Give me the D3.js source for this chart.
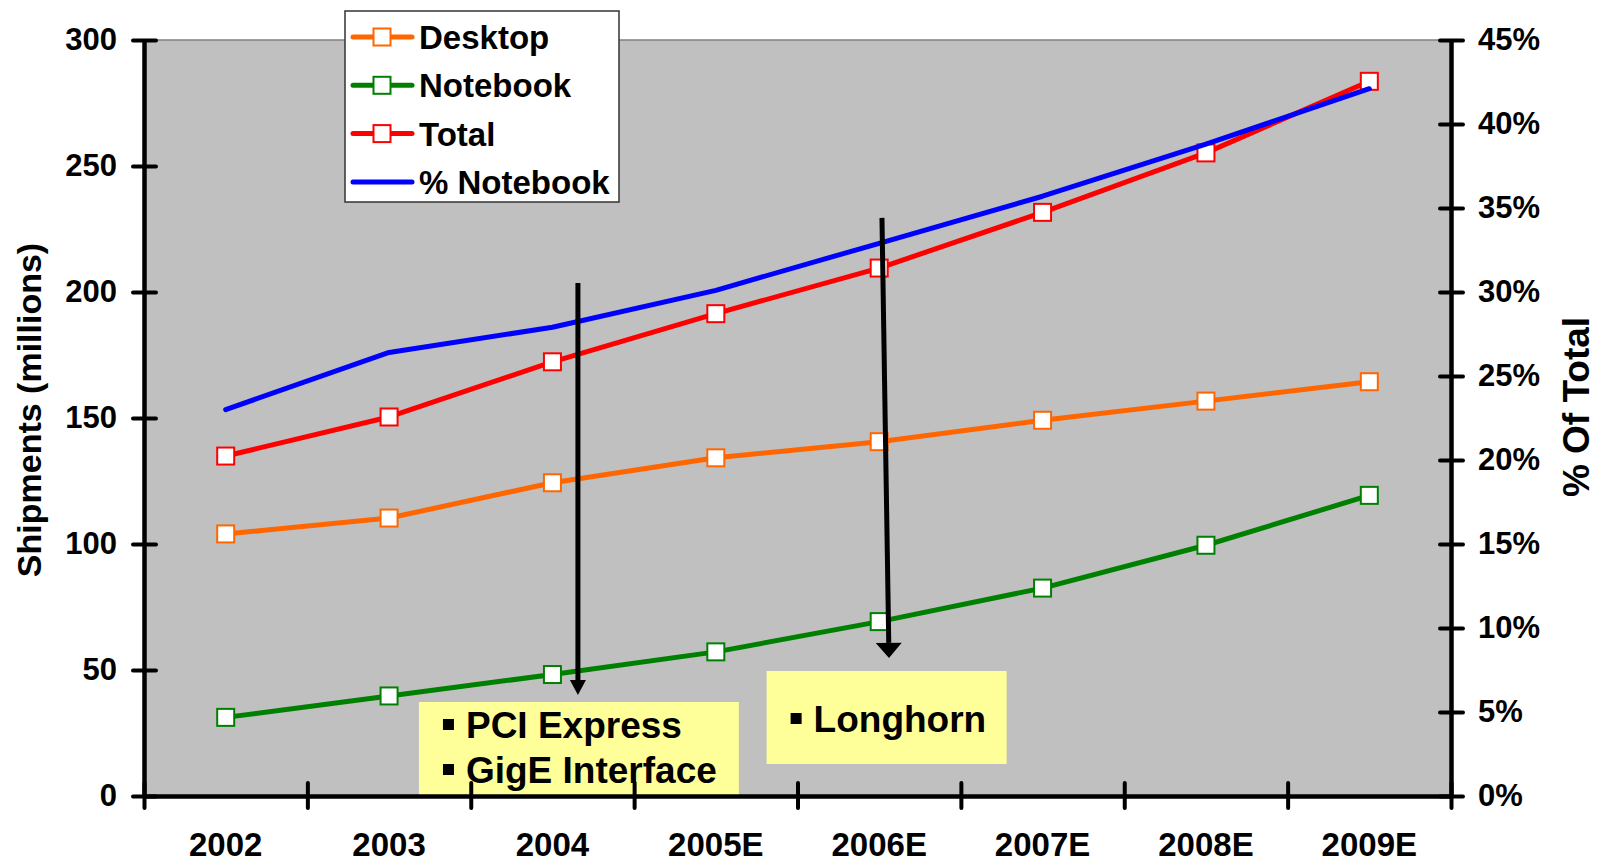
<!DOCTYPE html>
<html>
<head>
<meta charset="utf-8">
<script src="https://cdn.jsdelivr.net/npm/d3@7"></script>
<style>
  body { margin: 0; background: #fff; }
  svg text { font-family: "Liberation Sans", Arial, sans-serif; font-weight: bold; }
</style>
</head>
<body>
<svg id="chart" width="1598" height="863"></svg>
<script>
const years = ['2002', '2003', '2004', '2005E', '2006E', '2007E', '2008E', '2009E'];
const desktop = [104, 110.3, 124.3, 134.2, 140.6, 149.1, 156.7, 164.4];
const notebook = [31.2, 39.7, 48.2, 57.2, 69.2, 82.5, 99.5, 119.3];
const total = [134.9, 150.4, 172.3, 191.4, 209.5, 231.6, 255.2, 283.6];
const pctNotebook = [0.230, 0.264, 0.279, 0.301, 0.329, 0.357, 0.388, 0.421];
const leftTicks = [0, 50, 100, 150, 200, 250, 300];
const rightTicks = [0, 0.05, 0.10, 0.15, 0.20, 0.25, 0.30, 0.35, 0.40, 0.45];

// annotations in data units (x = category index, y = shipments)
const arrows = [
  { x1: 2.156, y1: 203.6, x2: 2.156, y2: 40.1, head: 16 },
  { x1: 4.017, y1: 229.4, x2: 4.06, y2: 54.8, head: 26 }
];
const notes = [
  { x0: 1.183, x1: 3.141, yTop: 37.3, yBot: 0, lines: ['PCI Express', 'GigE Interface'], firstBase: 36 },
  { x0: 3.311, x1: 4.780, yTop: 49.6, yBot: 12.7, lines: ['Longhorn'], firstBase: 61 }
];

const margin = { top: 40, right: 147, bottom: 67, left: 144 };
const width = 1598;
const height = 863;

const svg = d3.select('#chart');

const xb = d3.scaleBand().domain(years).range([margin.left, width - margin.right]);
const xi = d3.scaleLinear().domain([-0.5, years.length - 0.5]).range([margin.left, width - margin.right]);
const y = d3.scaleLinear().domain([0, 300]).range([height - margin.bottom, margin.top]);
const y2 = d3.scaleLinear().domain([0, 0.45]).range([height - margin.bottom, margin.top]);

// plot background
svg.append('rect')
  .attr('x', margin.left)
  .attr('y', margin.top)
  .attr('width', xi.range()[1] - margin.left)
  .attr('height', y(0) - margin.top)
  .attr('fill', '#c0c0c0');
svg.append('line')
  .attr('x1', margin.left).attr('x2', xi.range()[1])
  .attr('y1', margin.top).attr('y2', margin.top)
  .attr('stroke', '#808080').attr('stroke-width', 1.5);

// annotation boxes
notes.forEach(n => {
  const bx = xi(n.x0), by = y(n.yTop);
  svg.append('rect')
    .attr('x', bx).attr('y', by)
    .attr('width', xi(n.x1) - bx)
    .attr('height', y(n.yBot) - by)
    .attr('fill', '#ffff99');
  n.lines.forEach((t, i) => {
    const base = by + n.firstBase + i * 45;
    svg.append('rect')
      .attr('x', bx + 24).attr('y', base - 19)
      .attr('width', 11).attr('height', 11)
      .attr('fill', '#000');
    svg.append('text')
      .attr('x', bx + 47).attr('y', base)
      .style('font-size', '37px')
      .text(t);
  });
});

// series
const series = [
  { name: 'Desktop', values: desktop, color: '#ff6600', scale: y, marker: true },
  { name: 'Notebook', values: notebook, color: '#008000', scale: y, marker: true },
  { name: 'Total', values: total, color: '#ff0000', scale: y, marker: true },
  { name: '% Notebook', values: pctNotebook, color: '#0000ff', scale: y2, marker: false }
];
const ms = 17;

series.forEach(s => {
  const line = d3.line()
    .x((d, i) => xb(years[i]) + xb.bandwidth() / 2)
    .y(d => s.scale(d));
  svg.append('path')
    .datum(s.values)
    .attr('d', line)
    .attr('fill', 'none')
    .attr('stroke', s.color)
    .attr('stroke-width', 5)
    .attr('stroke-linecap', 'round')
    .attr('stroke-linejoin', 'round');
  if (s.marker) {
    svg.selectAll(null)
      .data(s.values)
      .enter().append('rect')
      .attr('x', (d, i) => xb(years[i]) + xb.bandwidth() / 2 - ms / 2)
      .attr('y', d => s.scale(d) - ms / 2)
      .attr('width', ms).attr('height', ms)
      .attr('fill', '#fff')
      .attr('stroke', s.color)
      .attr('stroke-width', 2);
  }
});

// arrows
arrows.forEach(a => {
  const sx = xi(a.x1), sy = y(a.y1), ex = xi(a.x2), ey = y(a.y2);
  const ang = Math.atan2(ey - sy, ex - sx);
  const len = 15;
  const bx = ex - len * Math.cos(ang), by = ey - len * Math.sin(ang);
  const px = -Math.sin(ang) * a.head / 2, py = Math.cos(ang) * a.head / 2;
  svg.append('line')
    .attr('x1', sx).attr('y1', sy).attr('x2', bx).attr('y2', by)
    .attr('stroke', '#000').attr('stroke-width', 5);
  svg.append('path')
    .attr('d', `M${ex},${ey}L${bx + px},${by + py}L${bx - px},${by - py}Z`)
    .attr('fill', '#000');
});

// axes
function styleAxis(g) {
  g.select('.domain').attr('stroke', '#000').attr('stroke-width', 4.5);
  g.selectAll('.tick line').attr('stroke', '#000').attr('stroke-width', 4).attr('stroke-linecap', 'round');
  g.selectAll('text').attr('fill', '#000');
}

const gl = svg.append('g')
  .attr('transform', `translate(${margin.left},0)`)
  .style('font-size', '31px')
  .call(d3.axisLeft(y).tickValues(leftTicks).tickSize(11).tickSizeOuter(0).tickPadding(16));
gl.selectAll('.tick line').attr('x1', 12);
styleAxis(gl);

const gr = svg.append('g')
  .attr('transform', `translate(${xi.range()[1]},0)`)
  .style('font-size', '31px')
  .call(d3.axisRight(y2).tickValues(rightTicks).tickSize(12).tickSizeOuter(0).tickPadding(15)
    .tickFormat(d3.format('.0%')));
gr.selectAll('.tick line').attr('x1', -11);
styleAxis(gr);

const gb = svg.append('g')
  .attr('transform', `translate(0,${y(0)})`)
  .call(d3.axisBottom(xi).tickValues(d3.range(-0.5, years.length, 1)).tickSize(12).tickSizeOuter(0).tickFormat(''));
gb.selectAll('.tick line').attr('y1', -13);
styleAxis(gb);

const gbl = svg.append('g')
  .attr('transform', `translate(0,${y(0)})`)
  .style('font-size', '33px')
  .call(d3.axisBottom(xb).tickSize(0).tickPadding(37));
gbl.select('.domain').remove();
gbl.selectAll('text').attr('fill', '#000');

// axis titles
svg.append('text')
  .attr('transform', `translate(41,${410}) rotate(-90)`)
  .attr('text-anchor', 'middle')
  .style('font-size', '34px')
  .text('Shipments (millions)');

svg.append('text')
  .attr('transform', `translate(1589,${407}) rotate(-90)`)
  .attr('text-anchor', 'middle')
  .style('font-size', '37px')
  .text('% Of Total');

// legend
const legend = svg.append('g');
legend.append('rect')
  .attr('x', 345).attr('y', 11)
  .attr('width', 274).attr('height', 191)
  .attr('fill', '#fff')
  .attr('stroke', '#333')
  .attr('stroke-width', 1.5);

const items = legend.selectAll('.legend-item')
  .data(series)
  .enter().append('g')
  .attr('class', 'legend-item')
  .attr('transform', (d, i) => `translate(0,${37 + i * 48.3})`);
items.append('line')
  .attr('x1', 353).attr('x2', 412)
  .attr('stroke', d => d.color)
  .attr('stroke-width', 5)
  .attr('stroke-linecap', 'round');
items.filter(d => d.marker).append('rect')
  .attr('x', 382 - ms / 2).attr('y', -ms / 2)
  .attr('width', ms).attr('height', ms)
  .attr('fill', '#fff')
  .attr('stroke', d => d.color)
  .attr('stroke-width', 2);
items.append('text')
  .attr('x', 419).attr('y', 12)
  .style('font-size', '33px')
  .text(d => d.name);
</script>
</body>
</html>
